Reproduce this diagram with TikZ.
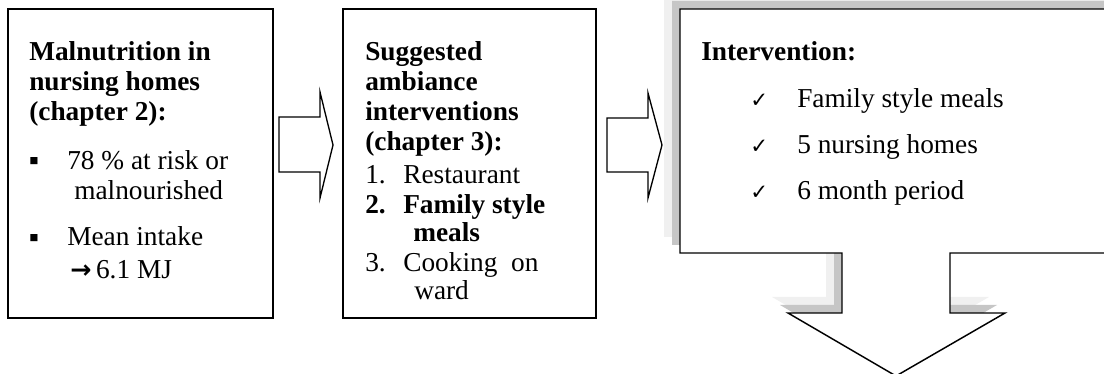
\documentclass[tikz,border=0pt]{standalone}
\usepackage{fontspec}
\setmainfont{Liberation Serif}
\newfontfamily\dejavu{DejaVu Sans}
\begin{document}
\begin{tikzpicture}[x=0.75pt,y=-0.75pt,
  box/.style={draw=black,line width=1.1pt,fill=white,inner sep=0pt},
  blockarrow/.style={draw=black,line width=1pt,fill=white,line join=miter},
  txt/.style={anchor=base west,inner sep=0pt,font=\fontsize{20.5pt}{24pt}\selectfont},
  btxt/.style={txt,font=\fontsize{20.5pt}{24pt}\selectfont\bfseries},
  sqbullet/.style={anchor=center,inner sep=0pt,font=\dejavu\fontsize{7pt}{7pt}\selectfont},
  chk/.style={anchor=base west,inner sep=0pt,font=\dejavu\fontsize{16pt}{16pt}\selectfont}]
\useasboundingbox (0,0) rectangle (1104,374);
\clip (0,0) rectangle (1104,374);

% ---- box 1
\node[box,minimum width=198.75pt,minimum height=231.75pt] (mal) at (140.5,163.5) {};
\node[btxt] (m1) at (29,61) {Malnutrition in};
\node[btxt] (m2) at (29,91) {nursing homes};
\node[btxt] (m3) at (29,121) {(chapter 2):};
\node[sqbullet] (b1) at (34,161) {■};
\node[txt] (m4) at (67,170) {78 \% at risk or};
\node[txt] (m5) at (74,200) {malnourished};
\node[sqbullet] (b2) at (34,238) {■};
\node[txt] (m6) at (67,246) {Mean intake};
\node[txt] (m7) at (70,278) {{\dejavu\bfseries\fontsize{19pt}{19pt}\selectfont →}\,6.1 MJ};

% ---- arrow 1
\draw[blockarrow] (279,117) -- (320,117) -- (320,92) -- (333,145) -- (320,198) -- (320,172) -- (279,172) -- cycle;

% ---- box 2
\node[box,minimum width=189.75pt,minimum height=231.75pt] (amb) at (469.5,163.5) {};
\node[btxt] (s1) at (365,61) {Suggested};
\node[btxt] (s2) at (365,91) {ambiance};
\node[btxt] (s3) at (365,121) {interventions};
\node[btxt] (s4) at (365,151) {(chapter 3):};
\node[txt] (n1) at (365,184) {1.};
\node[txt] (s5) at (403,184) {Restaurant};
\node[btxt] (n2) at (365,214) {2.};
\node[btxt] (s6) at (403,214) {Family style};
\node[btxt] (s7) at (413,242) {meals};
\node[txt] (n3) at (365,272) {3.};
\node[txt] (s8) at (403,272) {Cooking\ \ on};
\node[txt] (s9) at (414,300) {ward};

% ---- arrow 2
\draw[blockarrow] (607,118) -- (648,118) -- (648,93) -- (662,145) -- (648,198) -- (648,172) -- (607,172) -- cycle;

% ---- box 3 (callout with down arrow) and its shadow
\def\calloutpath{(680,9) -- (1120,9) -- (1120,253) -- (950,253) -- (950,313) -- (1005,313) -- (896,376) -- (788,313) -- (842,313) -- (842,253) -- (680,253) -- cycle}
\fill[gray!12] [shift={(-16,-16)}] \calloutpath;
\fill[gray!45] [shift={(-8,-8)}] \calloutpath;
\draw[box] \calloutpath;
\node[btxt] (i1) at (701,61) {Intervention:};
\node[chk] (c1) at (750,108) {✓};
\node[txt] (i2) at (797,108) {Family style meals};
\node[chk] (c2) at (750,154) {✓};
\node[txt] (i3) at (797,154) {5 nursing homes};
\node[chk] (c3) at (750,200) {✓};
\node[txt] (i4) at (797,200) {6 month period};
\end{tikzpicture}
\end{document}
